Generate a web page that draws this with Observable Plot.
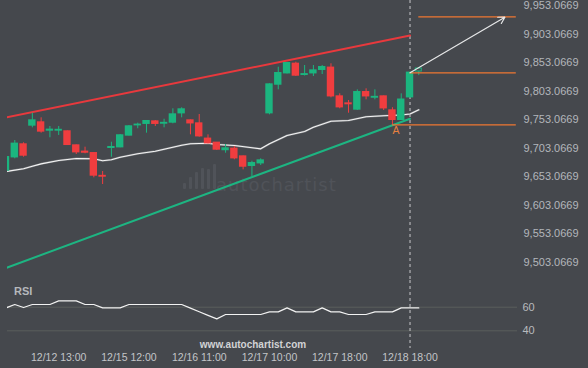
<!DOCTYPE html>
<html><head><meta charset="utf-8">
<script src="https://cdn.jsdelivr.net/npm/d3@7"></script>
<script src="https://cdn.jsdelivr.net/npm/@observablehq/plot@0.6"></script>
<style>
html,body{margin:0;padding:0;background:#45484d;}
#wrap{position:relative;width:588px;height:368px;overflow:hidden;background:#45484d;font-family:"Liberation Sans",Arial,sans-serif;}
#wrap svg{position:absolute;left:0;}
.lbl{position:absolute;white-space:nowrap;}
.wb{position:absolute;width:3px;background:#505359;border-radius:1px;}
</style></head><body>
<div id="wrap">
  <div id="wmicon"></div>
  <div class="lbl" id="wm" style="left:216px;top:176px;font-family:'DejaVu Sans',sans-serif;font-size:18px;line-height:18px;letter-spacing:1px;color:#505359;">autochartist</div>
  <div class="lbl" style="left:14px;top:285px;font-size:11px;line-height:13px;font-weight:bold;color:#b5b8bc;">RSI</div>
  <div class="lbl" style="left:0;width:506px;text-align:center;top:338px;font-size:10px;line-height:13px;font-weight:bold;color:#d2d3d5;">www.autochartist.com</div>
</div>
<script>
// ---- data ----
const open  = [9664.1, 9687.4, 9709.7, 9743.0, 9748.2, 9734.2, 9734.2, 9732.5, 9707.9, 9696.9, 9694.4, 9654.5, 9703.9, 9705.0, 9725.5, 9743.5, 9746.0, 9749.9, 9746.4, 9748.2, 9764.5, 9751.7, 9746.4, 9719.7, 9712.6, 9700.0, 9702.1, 9688.6, 9672.4, 9676.9, 9764.5, 9814.7, 9834.5, 9850.9, 9831.7, 9834.5, 9840.5, 9844.0, 9793.7, 9781.4, 9771.0, 9801.2, 9791.9, 9793.7, 9769.2, 9752.9, 9792.5, 9837.5];
const high  = [9688.6, 9716.7, 9712.7, 9764.5, 9756.4, 9741.2, 9741.2, 9733.3, 9708.8, 9705.0, 9695.6, 9662.4, 9713.7, 9727.2, 9743.0, 9747.0, 9751.2, 9751.7, 9753.9, 9772.2, 9774.0, 9752.6, 9762.2, 9726.6, 9713.2, 9709.7, 9706.2, 9689.5, 9680.4, 9684.6, 9815.9, 9845.0, 9853.2, 9853.8, 9848.0, 9848.0, 9848.0, 9851.0, 9798.4, 9786.7, 9805.4, 9807.2, 9805.4, 9794.6, 9774.1, 9798.4, 9835.7, 9842.7];
const low   = [9663.3, 9684.6, 9687.4, 9738.9, 9729.5, 9721.4, 9725.5, 9707.9, 9692.2, 9693.4, 9651.3, 9639.6, 9687.4, 9703.9, 9724.6, 9737.2, 9729.5, 9741.2, 9738.9, 9745.9, 9756.4, 9726.6, 9722.4, 9710.9, 9699.2, 9694.4, 9682.9, 9665.3, 9653.6, 9672.9, 9761.7, 9805.4, 9833.1, 9828.7, 9829.6, 9828.7, 9832.2, 9791.4, 9772.2, 9764.5, 9769.2, 9787.9, 9787.9, 9769.2, 9744.7, 9751.7, 9791.1, 9830.3];
const close = [9687.4, 9710.9, 9690.4, 9751.7, 9732.5, 9735.4, 9735.1, 9709.1, 9696.2, 9695.6, 9655.4, 9653.6, 9705.0, 9725.5, 9741.2, 9744.2, 9750.5, 9746.0, 9747.3, 9762.2, 9771.0, 9746.9, 9724.2, 9711.9, 9700.9, 9702.7, 9685.7, 9671.1, 9676.9, 9681.6, 9814.7, 9834.5, 9852.0, 9830.5, 9832.6, 9839.2, 9845.0, 9794.2, 9775.0, 9780.4, 9801.2, 9794.2, 9792.8, 9773.2, 9752.9, 9788.1, 9835.2, 9842.7];

const maIdx = [0, 2, 3, 4, 6, 8, 10, 11, 12, 13, 15, 17, 19, 20, 21, 23, 24, 26, 29, 30, 32, 34, 35, 37, 39, 41, 43, 45, 46, 47];
const maVal = [9662.4, 9667.1, 9671.7, 9675.8, 9681.6, 9685.1, 9684.6, 9681.1, 9682.9, 9687.4, 9693.4, 9697.9, 9704.9, 9708.4, 9710.9, 9711.9, 9709.7, 9707.9, 9702.1, 9710.9, 9725.4, 9732.4, 9740.0, 9750.5, 9751.7, 9758.2, 9760.0, 9761.3, 9763.1, 9770.4];

const rsi = [59.4, 62.3, 59.7, 62.3, 62.3, 62.3, 65.4, 65.4, 65.4, 62.3, 62.3, 59.4, 59.4, 59.4, 62.3, 62.3, 62.3, 62.3, 62.3, 62.3, 62.3, 59.2, 56.2, 53.1, 50.1, 53.8, 53.8, 53.8, 53.8, 53.8, 56.0, 56.0, 59.4, 56.0, 56.0, 56.0, 59.4, 56.0, 56.0, 53.8, 53.8, 53.8, 56.0, 56.0, 56.0, 59.4, 59.4, 59.4];

const upperIdx = [0, 46], upperVal = [9756.9, 9900.5];
const lowerIdx = [0, 46], lowerVal = [9493.5, 9754.7];

const priceTicks = [9503.0669, 9553.0669, 9603.0669, 9653.0669, 9703.0669, 9753.0669, 9803.0669, 9853.0669, 9903.0669, 9953.0669];
const rsiTicks = [40, 60];
const timeTickIdx = [6, 14, 22, 30, 38, 46];
const timeLabels = ["12/12 13:00", "12/15 12:00", "12/16 11:00", "12/17 10:00", "12/17 18:00", "12/18 18:00"];

const nowIdx = 46;
const levelVal = [9933.3, 9835.2, 9744.1];
const levelStart = [47, 46, 44];
const levelEnd = 58.1;
const forecast = {x1: 46, y1: 9835.2, x2: 56.8, y2: 9932.6};
const pointA = {x: 44.4, y: 9734.2, label: "A"};

// ---- build ----
const GREEN = "#1bb57f", RED = "#f03d3f", ORANGE = "#ef7732";
const candles = open.map((o, i) => ({i, o, h: high[i], l: low[i], c: close[i], up: close[i] >= o, hollow: i === open.length - 1}));
const solid = candles.filter(d => !d.hollow);
const hollow = candles.filter(d => d.hollow);
const ma = maIdx.map((i, k) => ({i, p: maVal[k]}));
const upper = upperIdx.map((i, k) => ({i, p: upperVal[k]}));
const lower = lowerIdx.map((i, k) => ({i, p: lowerVal[k]}));
const levels = levelVal.map((p, k) => ({p, x1: levelStart[k], x2: levelEnd}));
const xScale = {type: "linear", domain: [0, 47], range: [5.5, 418.3], axis: null};
const font = "Liberation Sans, Arial, sans-serif";

const main = Plot.plot({
  width: 588, height: 280,
  marginLeft: 7, marginRight: 71, marginTop: 0, marginBottom: 0,
  style: {background: "transparent", color: "#b3b6bb", fontFamily: font, fontSize: "11px", overflow: "visible"},
  x: xScale,
  y: {domain: [9503.0669, 9953.0669], range: [262, 5]},
  marks: [
    Plot.axisY({anchor: "right", ticks: priceTicks, tickFormat: d3.format(",.4f"), tickSize: 0, tickPadding: 6, fill: "#b3b6bb", fontSize: 11}),
    Plot.ruleX([nowIdx], {x: d => d, stroke: "#c9cacc", strokeDasharray: "3,3", strokeWidth: 1}),
    Plot.line(upper, {x: "i", y: "p", stroke: "#e8393d", strokeWidth: 2, clip: true}),
    Plot.line(lower, {x: "i", y: "p", stroke: "#1db582", strokeWidth: 2, clip: true}),
    Plot.line(ma, {x: "i", y: "p", stroke: "#75787c", strokeWidth: 2, clip: true}),
    Plot.line(ma, {x: "i", y: "p", stroke: "#f4f4f4", strokeWidth: 1.1, clip: true}),
    Plot.ruleX(solid, {x: "i", y1: "l", y2: "h", stroke: d => d.up ? GREEN : RED, strokeWidth: 1, clip: true}),
    Plot.rect(solid, {x1: d => d.i - 0.42, x2: d => d.i + 0.42, y1: d => Math.min(d.o, d.c), y2: d => Math.max(d.o, d.c), fill: d => d.up ? GREEN : RED, insetTop: -0.7, insetBottom: -0.7, clip: true}),
    Plot.ruleX(hollow, {x: "i", y1: "l", y2: d => Math.min(d.o, d.c), stroke: GREEN, strokeWidth: 1}),
    Plot.rect(hollow, {x1: d => d.i - 0.34, x2: d => d.i + 0.34, y1: d => Math.min(d.o, d.c), y2: d => Math.max(d.o, d.c), fill: "none", stroke: GREEN, strokeWidth: 1}),
    Plot.ruleY(levels, {y: "p", x1: "x1", x2: "x2", stroke: ORANGE, strokeWidth: 1.3}),
    Plot.arrow([forecast], {x1: "x1", y1: "y1", x2: "x2", y2: "y2", stroke: "#e6e7e8", strokeWidth: 1.2, headLength: 9}),
    Plot.text([pointA], {x: "x", y: "y", text: "label", fill: "#e8813f", fontSize: 10.5, fontFamily: font})
  ]
});
main.style.top = "0px";

const rsiPlot = Plot.plot({
  width: 588, height: 88,
  marginLeft: 7, marginRight: 71, marginTop: 0, marginBottom: 20,
  style: {background: "transparent", color: "#b8babd", fontFamily: font, fontSize: "11px", overflow: "visible"},
  x: xScale,
  y: {domain: [40, 60], range: [50.3, 26.7]},
  marks: [
    Plot.ruleY(rsiTicks, {stroke: "#5b5f5c", strokeWidth: 1}),
    Plot.ruleX([nowIdx], {x: d => d, stroke: "#c9cacc", strokeDasharray: "3,3", strokeWidth: 1}),
    Plot.line(rsi, {x: (d, i) => i, y: d => d, stroke: "#f2f2f2", strokeWidth: 1.2, clip: true}),
    Plot.axisY({anchor: "right", ticks: rsiTicks, tickSize: 0, tickPadding: 5, fill: "#b8babd", fontSize: 11}),
    Plot.axisX({anchor: "bottom", ticks: timeTickIdx, tickFormat: d => timeLabels[timeTickIdx.indexOf(d)], tickSize: 0, tickPadding: 5, fill: "#c3c5c8", fontSize: 10.5})
  ]
});
rsiPlot.style.top = "280px";

const wrap = document.getElementById("wrap");
wrap.appendChild(main);
wrap.appendChild(rsiPlot);

// watermark logo bars (decorative)
const icon = document.getElementById("wmicon");
[[183, 183], [189, 177], [195, 172], [201, 168], [207, 169], [213, 164]].forEach(([l, t]) => {
  const b = document.createElement("div");
  b.className = "wb";
  b.style.left = l + "px"; b.style.top = t + "px"; b.style.height = (189 - t) + "px";
  icon.appendChild(b);
});
</script>
</body></html>
